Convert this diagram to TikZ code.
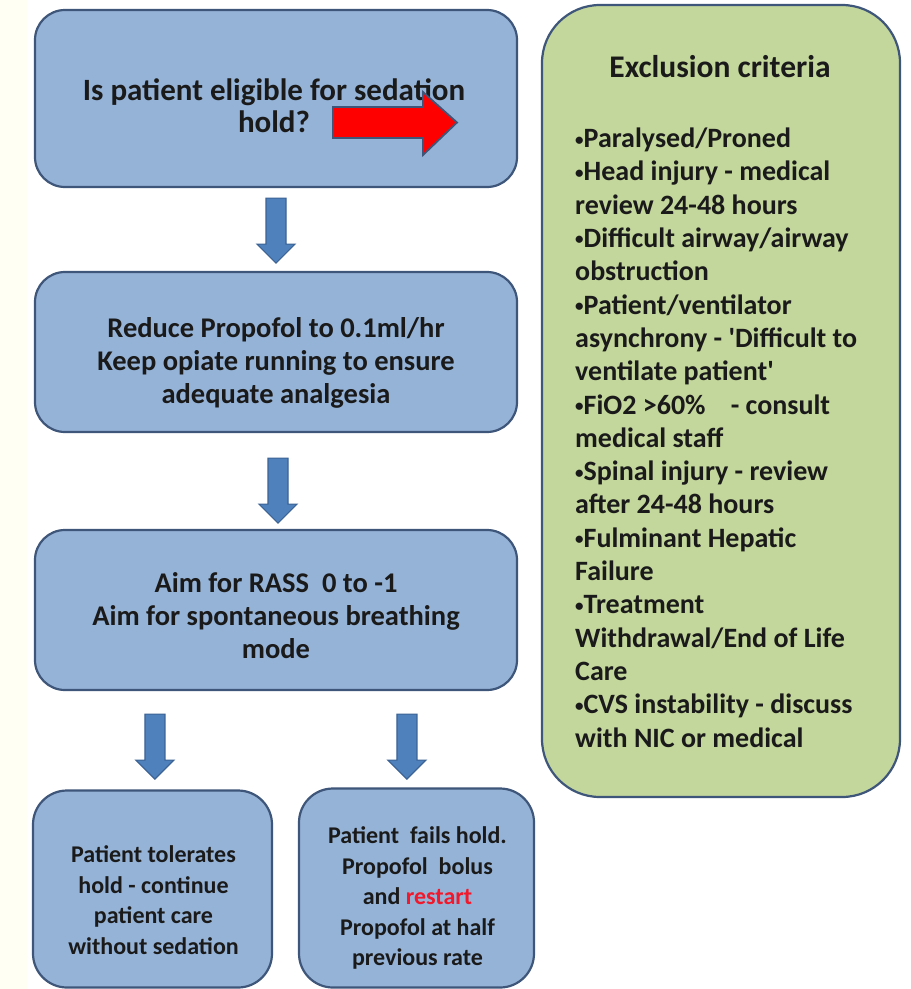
\documentclass[tikz,border=0pt]{standalone}
\usepackage{fontspec}
\setmainfont{Carlito}[Ligatures=TeXOff]
\usetikzlibrary{calc}
\definecolor{boxblue}{HTML}{95B3D7}
\definecolor{boxedge}{HTML}{3E5679}
\definecolor{boxgreen}{HTML}{C3D69B}
\definecolor{arrowblue}{HTML}{4F81BD}
\definecolor{arrowedge}{HTML}{3C6394}
\definecolor{cream}{HTML}{FFFFF4}
\definecolor{txt}{HTML}{1A1A1A}
\definecolor{redtxt}{HTML}{F0182A}
\newcommand\lbul{{\fontsize{17}{17}\selectfont\raisebox{2.6pt}{•}}}
\tikzset{
  bluebox/.style={draw=boxedge, line width=2.2pt, fill=boxblue, rounded corners=30pt, inner sep=0pt},
  greenbox/.style={draw=boxedge, line width=2.2pt, fill=boxgreen, rounded corners=58pt, inner sep=0pt},
  bigtext/.style={font=\fontsize{31}{32}\selectfont\bfseries, text=txt, align=center, inner sep=0pt},
  midtext/.style={font=\fontsize{28.5}{33}\selectfont\bfseries, text=txt, align=center, inner sep=0pt},
  smalltext/.style={font=\fontsize{24}{30.5}\selectfont\bfseries, text=txt, align=center, inner sep=0pt},
  listtext/.style={font=\fontsize{28}{33.3}\selectfont\bfseries, text=txt, align=left, inner sep=0pt},
  headtext/.style={font=\fontsize{31.5}{36}\selectfont\bfseries, text=txt, inner sep=0pt},
  blockdown/.pic={
    \filldraw[fill=arrowblue, draw=arrowedge, line width=1.2pt, line join=miter]
      (-10,0) -- (10,0) -- (10,46) -- (19,46) -- (0,65) -- (-19,46) -- (-10,46) -- cycle;
  }
}
\begin{document}
\begin{tikzpicture}[x=1pt,y=-1pt]
\useasboundingbox (0,0) rectangle (911,989);
\fill[white] (0,0) rectangle (911,989);
\fill[cream] (0,0) rectangle (28,989);

% boxes
\node[bluebox, minimum width=482pt, minimum height=177pt] (b1) at (276,98.5) {};
\node[bluebox, minimum width=482pt, minimum height=160pt] (b2) at (276,352) {};
\node[bluebox, minimum width=482pt, minimum height=160pt] (b3) at (276,610) {};
\node[bluebox, rounded corners=34pt, minimum width=239pt, minimum height=197pt] (b4) at (152.5,889) {};
\node[bluebox, rounded corners=34pt, minimum width=235pt, minimum height=199pt] (b5) at (416.5,888) {};
\node[greenbox, minimum width=358pt, minimum height=792pt] (ex) at (721,401) {};

% texts
\node[bigtext] (t1) at ($(b1.center)+(-2,7)$) {Is patient eligible for sedation\\hold?};
\node[midtext] (t2) at ($(b2.center)+(0,11)$) {Reduce Propofol to 0.1ml/hr\\Keep opiate running to ensure\\adequate analgesia};
\node[midtext] (t3) at ($(b3.center)+(0,6)$) {Aim for RASS\ \ 0 to -1\\Aim for spontaneous breathing\\mode};
\node[smalltext] (t4) at ($(b4.center)+(1,11)$) {Patient tolerates\\hold - continue\\patient care\\without sedation};
\node[smalltext] (t5) at ($(b5.center)+(1,10)$) {Patient\ \ fails hold.\\Propofol\ \ bolus\\and \textcolor{redtxt}{restart}\\Propofol at half\\previous rate};

\node[headtext, anchor=base] (th) at (720,77) {Exclusion criteria};
\node[listtext, anchor=base west] (tl) at (575,747) {%
\lbul Paralysed/Proned\\
\lbul Head injury - medical\\
review 24-48 hours\\
\lbul Difficult airway/airway\\
obstruction\\
\lbul Patient/ventilator\\
asynchrony - 'Difficult to\\
ventilate patient'\\
\lbul FiO2 >60\%\hspace{0.9em}- consult\\
medical staff\\
\lbul Spinal injury - review\\
after 24-48 hours\\
\lbul Fulminant Hepatic\\
Failure\\
\lbul Treatment\\
Withdrawal/End of Life\\
Care\\
\lbul CVS instability - discuss\\
with NIC or medical};

% red arrow inside the top box
\filldraw[fill=red, draw=boxedge, line width=1.8pt, line join=miter]
  (333,107) -- (423,107) -- (423,92) -- (457,122.5) -- (423,155) -- (423,138) -- (333,138) -- cycle;

% down block arrows
\path ($(b1.south)+(0,10)$) pic {blockdown};
\path ($(b2.south)+(2,25)$) pic {blockdown};
\path ($(b3.south west)+(121,23)$) pic {blockdown};
\path ($(b3.south west)+(373,23)$) pic {blockdown};
\end{tikzpicture}
\end{document}
